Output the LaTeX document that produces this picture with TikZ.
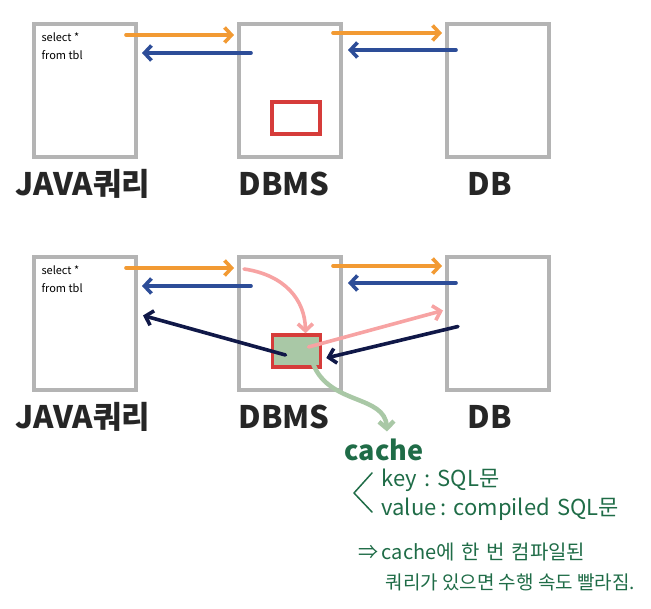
\documentclass[tikz,border=0pt]{standalone}
\usepackage{fontspec}
\setmainfont{Noto Sans CJK KR}
\usetikzlibrary{arrows.meta,calc}
\definecolor{boxgray}{HTML}{B4B4B4}
\definecolor{qorange}{HTML}{F29A33}
\definecolor{qblue}{HTML}{2D4D98}
\definecolor{qred}{HTML}{D63C3A}
\definecolor{qpink}{HTML}{F7A3A3}
\definecolor{qnavy}{HTML}{101848}
\definecolor{qgreen}{HTML}{A9C8A6}
\definecolor{qtext}{HTML}{1F6C47}
\begin{document}
\begin{tikzpicture}[x=1pt,y=-1pt,
        box/.style={draw=boxgray, line width=4pt, minimum width=102pt, minimum height=133pt, inner sep=0pt},
        cbox/.style={draw=qred, line width=3.5pt, minimum width=48pt, minimum height=32pt, inner sep=0pt},
        lbl/.style={font=\fontsize{31}{31}\selectfont\bfseries, text=black!85},
        arr/.style={line width=3.6pt, line cap=round, -{Straight Barb[length=7pt,width=15pt]}},
        note/.style={anchor=west, text=qtext, font=\fontsize{19}{22}\selectfont}]
        \useasboundingbox (0,0) rectangle (651,609);
        % two rows: 1 = without cache, 2 = with cache
        \foreach \r/\y in {1/90.5, 2/323.5} {
            \node[box] (jq\r) at (85,\y) {};
            \node[box] (dbms\r) at (290,\y) {};
            \node[box] (db\r) at (498,\y) {};
            \node[lbl] (lj\r) at (83,\y+93) {JAVA쿼리};
            \node[lbl] (ld\r) at (284,\y+93) {DBMS};
            \node[lbl] (lb\r) at (490,\y+93) {DB};
            \node[anchor=north west, align=left, font=\fontsize{11}{18}\selectfont] (sql\r) at (38,\y-61) {select *\\from tbl};
            \draw[arr, qorange] ($(jq\r.north east)+(-12,13)$) -- ($(dbms\r.north west)+(-3,13)$);
            \draw[arr, qblue] ($(dbms\r.north west)+(14,31)$) -- ($(jq\r.north east)+(4,31)$);
            \draw[arr, qorange] ($(dbms\r.north east)+(-10,11)$) -- ($(db\r.north west)+(-3,11)$);
            \draw[arr, qblue] ($(db\r.north west)+(11,28)$) -- ($(dbms\r.north east)+(5,28)$);
        }
        \node[cbox] (c1) at (296,118) {};
        \node[cbox, fill=qgreen] (c2) at (296.5,351) {};
        % cache path
        \draw[arr, qpink] ($(dbms2.north west)+(7,14)$) .. controls (285,275) and (305,300) .. ($(c2.north)+(9,0)$);
        \draw[arr, qpink] ($(c2.center)+(12,-4)$) -- ($(db2.west)+(-2,-13)$);
        \draw[arr, qnavy] ($(db2.west)+(13,3)$) -- ($(c2.east)+(4,7)$);
        \draw[arr, qnavy] ($(c2.center)+(-11,4)$) -- ($(jq2.east)+(5,-8)$);
        \node[anchor=west, text=qtext, font=\fontsize{27}{27}\selectfont\bfseries] (cache) at (341,450) {cache};
        \draw[arr, qgreen, line width=4.5pt] ($(c2.south)+(17,-4)$) .. controls (330,405) and (385,395) .. ($(cache.north)+(3,-4)$);
        \draw[qtext, line width=1.5pt, line cap=round, line join=round] (372,473) -- (354,493) -- (372,512);
        \node[note, font=\fontsize{22}{24}\selectfont] (key) at (378,480) {key\,\,:\,\,SQL문};
        \node[note, font=\fontsize{22}{24}\selectfont] (val) at (378,509) {value\,:\,\,compiled\,\,SQL문};
        \node[note, font=\fontsize{20}{22}\selectfont] (res1) at (355,552) {⇒\,cache에\,\,한\,\,번\,\,컴파일된};
        \node[note] (res2) at (382,582) {쿼리가 있으면 수행 속도 빨라짐.};
    \end{tikzpicture}
\end{document}
